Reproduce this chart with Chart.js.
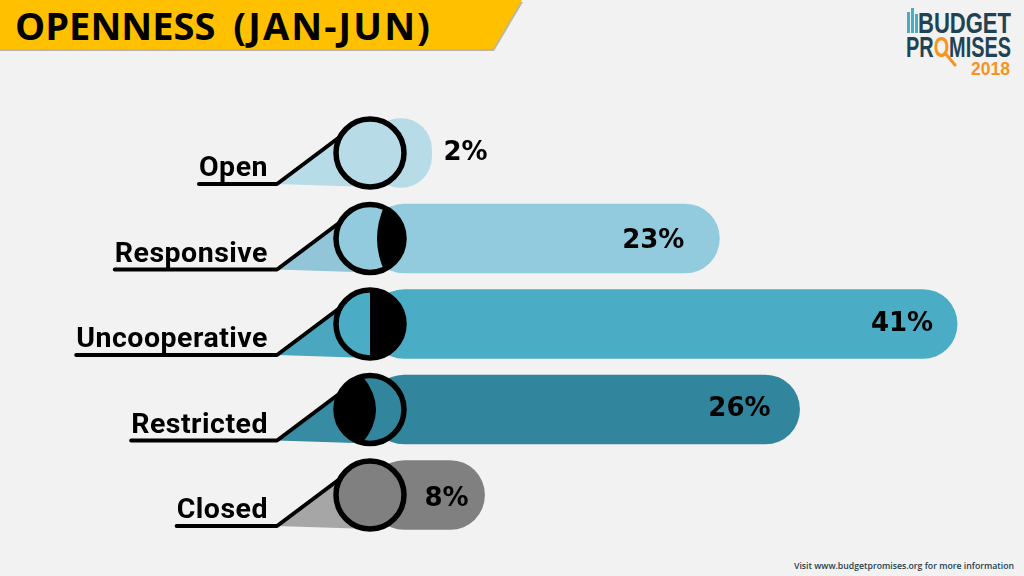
<!DOCTYPE html>
<html>
<head>
<meta charset="utf-8">
<style>
	html, body { margin: 0; padding: 0; background: #f2f2f2; overflow: hidden; }
	#page { position: relative; width: 1024px; height: 576px; overflow: hidden; }
	#chart { position: absolute; left: 0; top: 0; }
	#banner {
		position: absolute; left: 0; top: 0; width: 522px; height: 49px;
		background: #ffc000;
		clip-path: polygon(0 0, 522px 0, 493px 49px, 0 49px);
	}
	#bannerShadow {
		position: absolute; left: 0; top: 2px; width: 523px; height: 49px;
		background: #b9b5aa;
		clip-path: polygon(0 0, 523px 0, 494px 49px, 0 49px);
	}
	#title {
		position: absolute; left: 15px; top: 0;
		font: 700 38px/50px "Open Sans"; color: #000; white-space: pre;
	}
	#title span { letter-spacing: 2.1px; margin-left: 18px; }
	#logo { position: absolute; left: 900px; top: 0; }
	#footer { position: absolute; left: 790px; top: 556px; }
</style>
<script src="https://cdn.jsdelivr.net/npm/chart.js@4"></script>
</head>
<body>
<div id="page">
	<div id="bannerShadow"></div>
	<div id="banner"></div>
	<div id="title">OPENNESS<span>(JAN-JUN)</span></div>
	<svg id="logo" width="124" height="80">
		<g fill="#4bacc6">
			<rect x="7" y="12" width="3" height="21"/>
			<rect x="11" y="8" width="3" height="25"/>
			<rect x="15" y="14" width="3" height="19"/>
		</g>
		<text x="18" y="33" textLength="93" lengthAdjust="spacingAndGlyphs" font-family="Liberation Sans" font-weight="700" font-size="29" fill="#1f4254">BUDGET</text>
		<text x="6" y="57" textLength="105" lengthAdjust="spacingAndGlyphs" font-family="Liberation Sans" font-weight="700" font-size="29" fill="#1f4254">PR<tspan fill="#f7941d">O</tspan>MISES</text>
		<line x1="45" y1="53" x2="55" y2="65" stroke="#f7941d" stroke-width="3" stroke-linecap="round"/>
		<text x="71" y="75" textLength="39" lengthAdjust="spacingAndGlyphs" font-family="Liberation Sans" font-weight="700" font-size="19" fill="#f7941d">2018</text>
	</svg>
	<svg id="footer" width="230" height="20">
		<text x="4" y="13" textLength="220" lengthAdjust="spacingAndGlyphs" font-family="Open Sans" font-weight="600" font-size="9.6" fill="#24404f">Visit www.budgetpromises.org for more information</text>
	</svg>
	<canvas id="chart" width="1024" height="576"></canvas>
</div>
<script>
const categories = ['Open', 'Responsive', 'Uncooperative', 'Restricted', 'Closed']
const printedShares = [2, 23, 41, 26, 8]
// bar lengths: the original does not draw them in proportion to the printed shares
const barLengths = [4.3, 24.4, 41, 30, 8]

const barColors = ['#b7dce8', '#92cbde', '#4bacc6', '#31859c', '#808080']
const wedgeColors = ['#b7dce8', '#92c5d8', '#4ba6c0', '#378ba3', '#a6a6a6']
const moonShapes = [null, 'rightLens', 'half', 'leftLens', null]
const valueInsets = [-56, 35, 24, 29, 16]
const valueLifts = [0, 2.5, 0, 0, 4]

const LABEL_FONT = '700 28.5px Roboto'
const LABEL_SPACING = '0.5px'
const VALUE_FONT = '700 26px "DejaVu Sans"'

function drawMoon(ctx, shape, x, y, r) {
	ctx.save()
	ctx.beginPath()
	ctx.arc(x, y, r, 0, Math.PI * 2)
	ctx.clip()
	ctx.fillStyle = '#000'
	ctx.beginPath()
	if (shape === 'half') {
		ctx.rect(x, y - r, r, r * 2)
	} else if (shape === 'rightLens') {
		ctx.moveTo(x + 15, y - r)
		ctx.quadraticCurveTo(x - 1, y, x + 15, y + r)
		ctx.lineTo(x + r, y + r)
		ctx.lineTo(x + r, y - r)
	} else if (shape === 'leftLens') {
		ctx.moveTo(x - 8, y - r)
		ctx.quadraticCurveTo(x + 20, y, x - 8, y + r)
		ctx.lineTo(x - r, y + r)
		ctx.lineTo(x - r, y - r)
	}
	ctx.closePath()
	ctx.fill()
	ctx.restore()
}

const pointerPlugin = {
	id: 'pointer',
	beforeDraw(chart) {
		chart.ctx.letterSpacing = LABEL_SPACING
	},
	afterDatasetsDraw(chart) {
		const { ctx, scales } = chart
		const bars = chart.getDatasetMeta(0).data
		const r = 34

		categories.forEach((category, i) => {
			const x = scales.x.getPixelForValue(0)
			const y = scales.y.getPixelForValue(i)
			const footX = x - 93
			const footY = y + 31
			const tipX = x - 29
			const tipY = y - 17

			// wedge between the label line and the circle
			ctx.fillStyle = wedgeColors[i]
			ctx.beginPath()
			ctx.moveTo(footX, footY)
			ctx.lineTo(tipX, tipY)
			ctx.lineTo(x, footY + 3)
			ctx.closePath()
			ctx.fill()

			// label underline and slanted line
			ctx.font = LABEL_FONT
			ctx.letterSpacing = LABEL_SPACING
			const lineStart = x - 102 - ctx.measureText(category).width
			ctx.strokeStyle = '#000'
			ctx.lineWidth = 4
			ctx.lineCap = 'round'
			ctx.lineJoin = 'round'
			ctx.beginPath()
			ctx.moveTo(lineStart, footY)
			ctx.lineTo(footX, footY)
			ctx.lineTo(tipX, tipY)
			ctx.stroke()

			// lens
			ctx.fillStyle = barColors[i]
			ctx.beginPath()
			ctx.arc(x, y, r, 0, Math.PI * 2)
			ctx.fill()
			if (moonShapes[i]) drawMoon(ctx, moonShapes[i], x, y, r)
			ctx.lineWidth = 5.5
			ctx.beginPath()
			ctx.arc(x, y, r, 0, Math.PI * 2)
			ctx.stroke()

			// printed share
			ctx.font = VALUE_FONT
			ctx.letterSpacing = '0px'
			ctx.fillStyle = '#000'
			ctx.textBaseline = 'middle'
			ctx.textAlign = 'right'
			ctx.fillText(printedShares[i] + '%', bars[i].x - valueInsets[i], y + valueLifts[i])
		})
	},
}

new Chart(document.getElementById('chart').getContext('2d'), {
	type: 'bar',
	data: {
		labels: categories,
		datasets: [
			{
				data: barLengths,
				backgroundColor: barColors,
				borderRadius: 34.5,
				borderSkipped: false,
				barThickness: 69,
			},
		],
	},
	options: {
		indexAxis: 'y',
		responsive: false,
		animation: false,
		layout: { padding: { top: 110.25, bottom: 38.25, right: 9.6 } },
		plugins: { legend: { display: false }, title: { display: false }, tooltip: { enabled: false } },
		scales: {
			x: {
				display: false,
				min: 0,
				max: 45,
			},
			y: {
				afterFit(scale) {
					scale.width = 370
				},
				border: { display: false },
				grid: { drawOnChartArea: false, tickLength: 102, tickColor: 'transparent' },
				ticks: {
					color: '#000',
					font: { family: 'Roboto', weight: '700', size: 28.5 },
					padding: 0,
					labelOffset: 16,
				},
			},
		},
	},
	plugins: [pointerPlugin],
})
</script>
</body>
</html>
